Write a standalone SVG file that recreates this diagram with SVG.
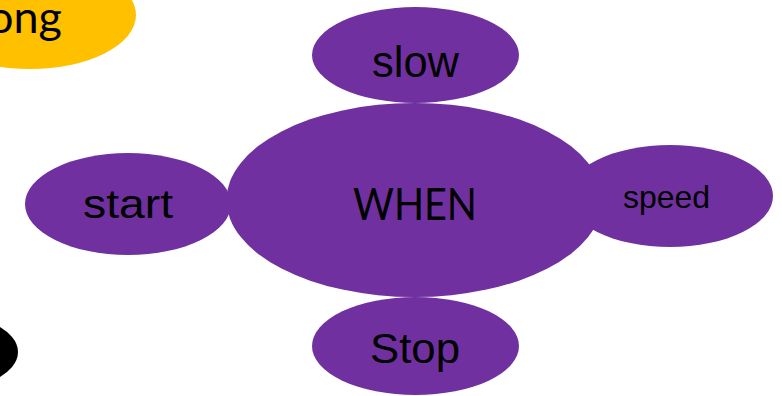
<svg xmlns="http://www.w3.org/2000/svg" width="782" height="396" viewBox="0 0 782 396">
<style>
.node{fill:#7030A0}
.lbl{font-family:"Liberation Sans",Arial,sans-serif;fill:#000;text-anchor:middle}
.hum{font-family:Lato,"Open Sans",sans-serif;fill:#000}
</style>
<rect width="782" height="396" fill="#fff"/>
<g id="yellow-node">
<ellipse cx="30" cy="15" rx="106" ry="54" fill="#FFC000"/>
<text class="hum" x="62" y="33" font-size="45" text-anchor="end">ong</text>
</g>
<g id="black-node">
<ellipse cx="-60" cy="352" rx="78" ry="39" fill="#000"/>
</g>
<g id="connectors"></g>
<g id="node-slow">
<ellipse class="node" cx="415.5" cy="55" rx="103.5" ry="48"/>
<text class="lbl" x="415.5" y="77" font-size="44" textLength="87" lengthAdjust="spacingAndGlyphs">slow</text>
</g>
<g id="node-stop">
<ellipse class="node" cx="415.5" cy="346" rx="103.5" ry="49"/>
<text class="lbl" x="415" y="363" font-size="43" textLength="90" lengthAdjust="spacingAndGlyphs">Stop</text>
</g>
<g id="node-start">
<ellipse class="node" cx="128" cy="204" rx="103" ry="51"/>
<text class="lbl" x="128" y="218" font-size="40" textLength="90" lengthAdjust="spacingAndGlyphs">start</text>
</g>
<g id="node-speed">
<ellipse class="node" cx="670" cy="196" rx="103" ry="51"/>
<text class="lbl" x="666.5" y="208" font-size="32" textLength="87" lengthAdjust="spacingAndGlyphs">speed</text>
</g>
<g id="node-when">
<ellipse class="node" cx="414.5" cy="200" rx="188" ry="97"/>
<text class="hum" x="415" y="220" font-size="44" text-anchor="middle" textLength="124" lengthAdjust="spacingAndGlyphs">WHEN</text>
</g>
</svg>
